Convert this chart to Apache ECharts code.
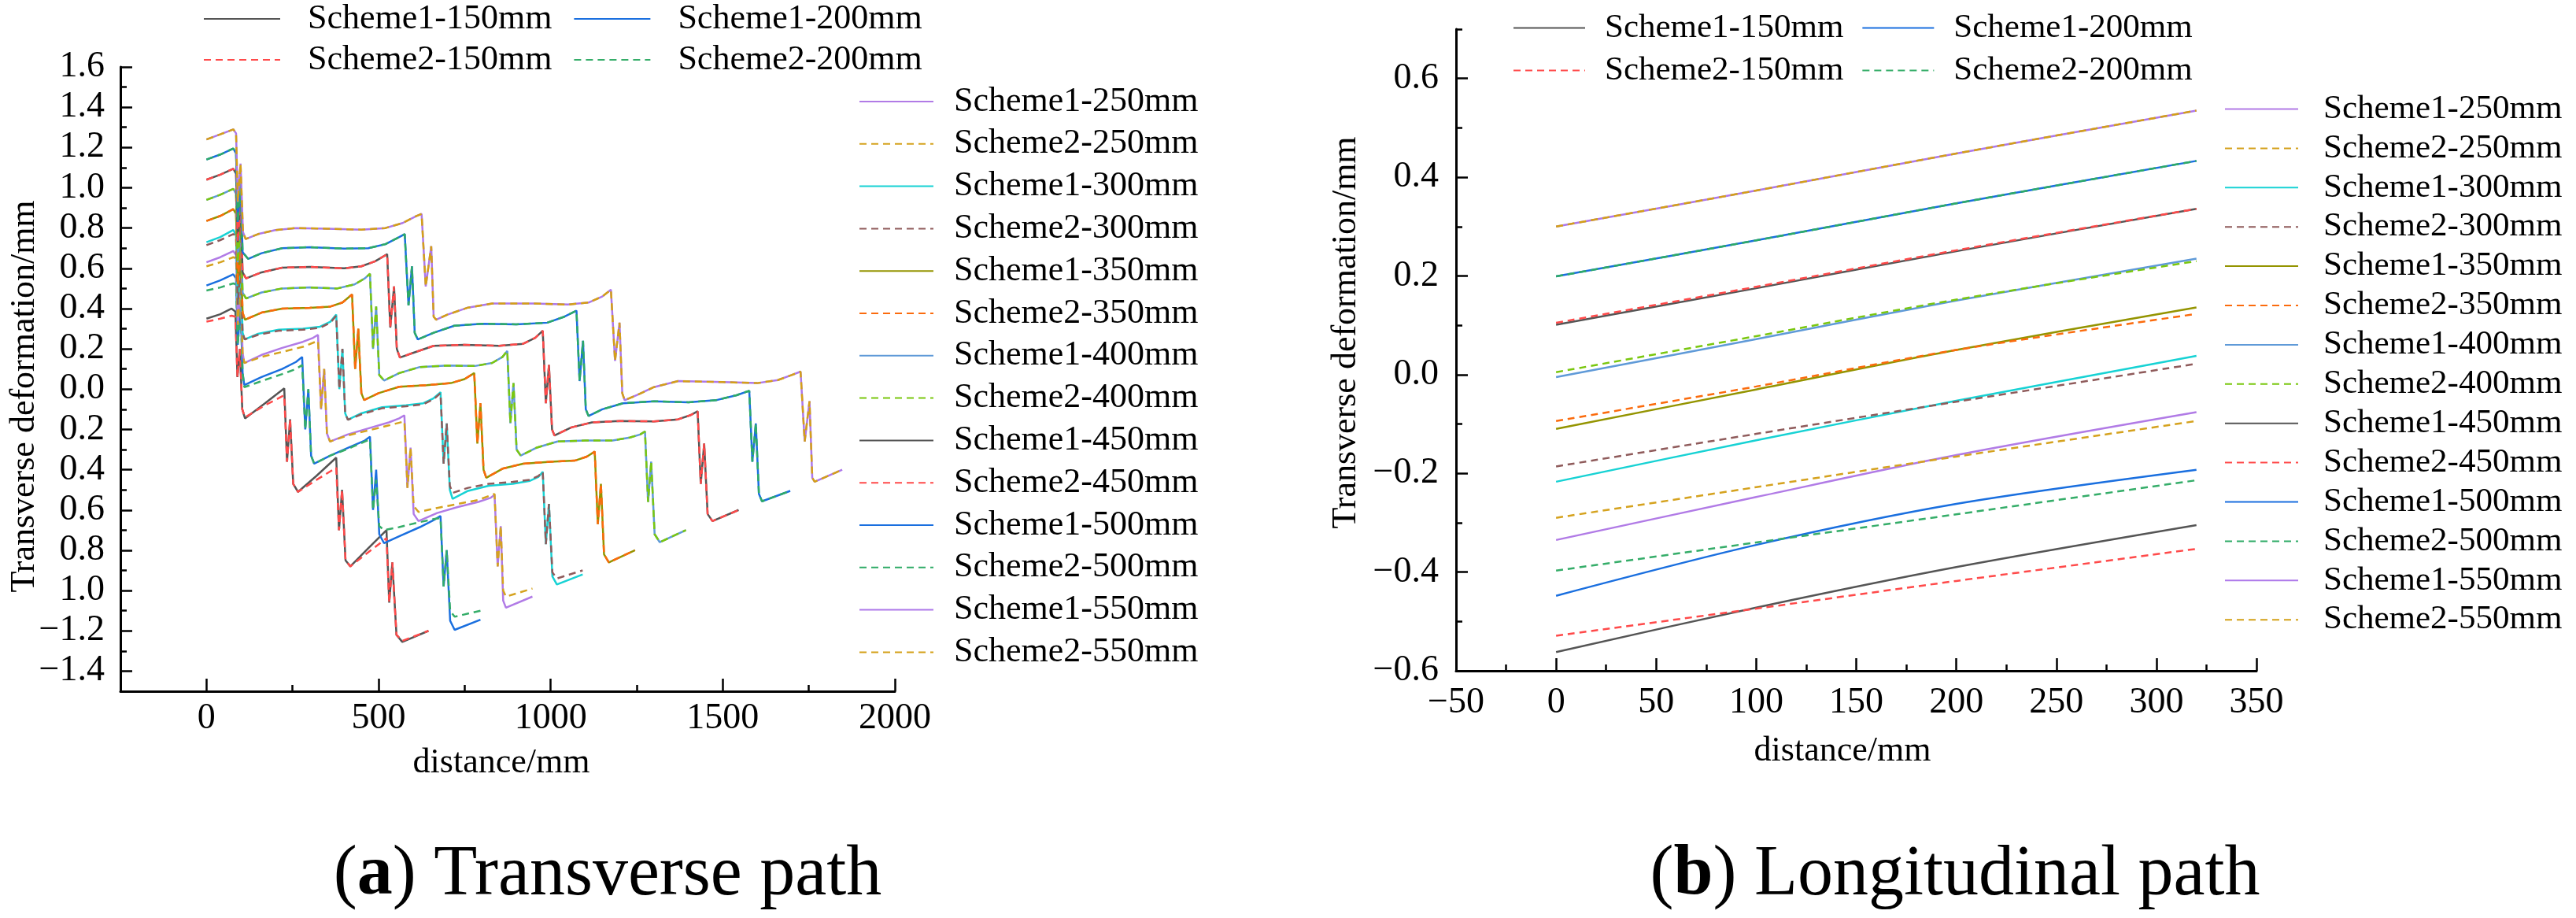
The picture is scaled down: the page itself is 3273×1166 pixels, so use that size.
<!DOCTYPE html>
<html>
<head>
<meta charset="utf-8">
<script src="https://cdn.jsdelivr.net/npm/echarts@6/dist/echarts.min.js"></script>
<style>
html, body { margin: 0; padding: 0; background: #fff; }
#chart { width: 3273px; height: 1166px; }
</style>
</head>
<body>
<div id="chart"></div>
<script>
// =====================================
// Series names / colours
// =====================================

const seriesNames = [
    "Scheme1-150mm", "Scheme2-150mm",
    "Scheme1-200mm", "Scheme2-200mm",
    "Scheme1-250mm", "Scheme2-250mm",
    "Scheme1-300mm", "Scheme2-300mm",
    "Scheme1-350mm", "Scheme2-350mm",
    "Scheme1-400mm", "Scheme2-400mm",
    "Scheme1-450mm", "Scheme2-450mm",
    "Scheme1-500mm", "Scheme2-500mm",
    "Scheme1-550mm", "Scheme2-550mm"
];

const seriesColors = [
    "#555555", "#ff4a4a",
    "#1a6fdf", "#35ad69",
    "#b17be6", "#d5a21e",
    "#17d2d4", "#8f5b5b",
    "#949400", "#fb6b0d",
    "#5f9ad8", "#7ac70f",
    "#555555", "#ff4a4a",
    "#1a6fdf", "#2eab66",
    "#ad78ea", "#d4a017"
];

// =====================================
// (a) Transverse path  [distance, deformation]
// =====================================

const trans150s1 = [
    [0, 0.35], [40, 0.372], [73, 0.40], [84, 0.385], [90, 0.06], [97, 0.2], [104, -0.1], [112, -0.145],
    [170, -0.07], [226, 0.004],
    [234, -0.36], [243, -0.15], [252, -0.47], [266, -0.51],
    [320, -0.43], [377, -0.34],
    [385, -0.7], [394, -0.5], [404, -0.85], [418, -0.88],
    [470, -0.79], [523, -0.70],
    [531, -1.06], [540, -0.86], [552, -1.22], [569, -1.255],
    [645, -1.20]
];
const trans150s2 = [
    [0, 0.335], [40, 0.35], [73, 0.365], [84, 0.36], [90, 0.06], [97, 0.2], [104, -0.1], [112, -0.14],
    [170, -0.08], [226, -0.03],
    [234, -0.36], [243, -0.15], [252, -0.47], [266, -0.51],
    [320, -0.45], [377, -0.39],
    [385, -0.7], [394, -0.5], [404, -0.85], [418, -0.88],
    [470, -0.81], [523, -0.74],
    [531, -1.06], [540, -0.86], [552, -1.22], [569, -1.25],
    [645, -1.20]
];
const trans200s1 = [
    [0, 0.515], [40, 0.54], [78, 0.57], [86, 0.55], [91, 0.22], [99, 0.42], [105, 0.08], [110, 0.02],
    [160, 0.06], [220, 0.10], [260, 0.135], [278, 0.16],
    [287, -0.2], [296, 0.0], [304, -0.33], [313, -0.37],
    [360, -0.33], [420, -0.285], [460, -0.255], [475, -0.236],
    [484, -0.6], [493, -0.4], [502, -0.72], [516, -0.765],
    [560, -0.73], [620, -0.685], [660, -0.65], [680, -0.63],
    [689, -0.98], [698, -0.8], [708, -1.15], [721, -1.195],
    [796, -1.145]
];
const trans200s2 = [
    [0, 0.49], [40, 0.505], [78, 0.525], [86, 0.52], [91, 0.22], [99, 0.42], [105, 0.08], [110, 0.01],
    [160, 0.04], [220, 0.075], [260, 0.10], [278, 0.12],
    [287, -0.2], [296, 0.0], [304, -0.33], [313, -0.37],
    [360, -0.33], [420, -0.29], [460, -0.26], [475, -0.25],
    [484, -0.6], [493, -0.45], [502, -0.68], [516, -0.70],
    [560, -0.685], [620, -0.66], [660, -0.645], [680, -0.64],
    [689, -0.98], [698, -0.8], [708, -1.1], [721, -1.13],
    [796, -1.10]
];
const trans250s1 = [
    [0, 0.63], [40, 0.655], [78, 0.686], [86, 0.665], [91, 0.32], [99, 0.52], [105, 0.18], [110, 0.13],
    [160, 0.17], [220, 0.205], [280, 0.235], [310, 0.255], [324, 0.27],
    [333, -0.1], [342, 0.1], [350, -0.22], [359, -0.26],
    [410, -0.225], [470, -0.195], [530, -0.165], [560, -0.145], [575, -0.13],
    [584, -0.49], [593, -0.29], [602, -0.62], [616, -0.655],
    [670, -0.615], [730, -0.585], [790, -0.56], [825, -0.54], [837, -0.525],
    [846, -0.88], [855, -0.68], [862, -1.05], [870, -1.085],
    [947, -1.03]
];
const trans250s2 = [
    [0, 0.61], [40, 0.63], [78, 0.655], [86, 0.65], [91, 0.32], [99, 0.52], [105, 0.18], [110, 0.13],
    [160, 0.16], [220, 0.185], [280, 0.21], [324, 0.24],
    [333, -0.1], [342, 0.1], [350, -0.22], [359, -0.26],
    [410, -0.23], [470, -0.205], [530, -0.18], [575, -0.16],
    [584, -0.49], [593, -0.29], [602, -0.58], [616, -0.61],
    [670, -0.59], [730, -0.57], [790, -0.55], [837, -0.52],
    [846, -0.88], [855, -0.68], [862, -1.0], [870, -1.03],
    [947, -0.99]
];
const trans300s1 = [
    [0, 0.73], [40, 0.755], [78, 0.79], [86, 0.765], [91, 0.42], [99, 0.62], [105, 0.28], [111, 0.247],
    [150, 0.275], [210, 0.295], [280, 0.30], [330, 0.31], [360, 0.335], [377, 0.37],
    [386, 0.0], [395, 0.2], [403, -0.12], [411, -0.152],
    [450, -0.12], [510, -0.09], [580, -0.08], [630, -0.07], [660, -0.045], [680, -0.015],
    [689, -0.37], [698, -0.17], [707, -0.5], [715, -0.545],
    [760, -0.505], [820, -0.48], [890, -0.47], [940, -0.455], [965, -0.435], [977, -0.41],
    [986, -0.77], [995, -0.57], [1005, -0.93], [1018, -0.97],
    [1093, -0.92]
];
const trans300s2 = [
    [0, 0.715], [40, 0.74], [78, 0.77], [86, 0.76], [91, 0.42], [99, 0.62], [105, 0.28], [111, 0.247],
    [150, 0.27], [210, 0.29], [280, 0.295], [330, 0.305], [360, 0.33], [377, 0.365],
    [386, 0.0], [395, 0.2], [403, -0.12], [411, -0.152],
    [450, -0.125], [510, -0.095], [580, -0.085], [630, -0.075], [660, -0.05], [680, -0.02],
    [689, -0.37], [698, -0.17], [707, -0.48], [715, -0.515],
    [760, -0.49], [820, -0.47], [890, -0.46], [940, -0.45], [965, -0.43], [977, -0.41],
    [986, -0.77], [995, -0.57], [1005, -0.91], [1018, -0.94],
    [1093, -0.90]
];
const trans350 = [
    [0, 0.835], [40, 0.86], [78, 0.894], [86, 0.87], [91, 0.52], [99, 0.72], [105, 0.38], [112, 0.345],
    [160, 0.38], [220, 0.40], [300, 0.404], [360, 0.41], [395, 0.43], [423, 0.47],
    [432, 0.1], [441, 0.3], [450, -0.02], [458, -0.054],
    [500, -0.02], [560, 0.012], [640, 0.02], [710, 0.03], [750, 0.05], [778, 0.08],
    [787, -0.27], [796, -0.07], [805, -0.4], [813, -0.44],
    [860, -0.395], [920, -0.37], [1000, -0.36], [1070, -0.355], [1105, -0.335], [1128, -0.31],
    [1137, -0.67], [1146, -0.47], [1155, -0.82], [1169, -0.86],
    [1245, -0.80]
];
const trans400 = [
    [0, 0.94], [40, 0.965], [78, 0.995], [86, 0.97], [91, 0.63], [99, 0.82], [105, 0.48], [115, 0.45],
    [160, 0.48], [220, 0.50], [300, 0.505], [380, 0.50], [430, 0.52], [460, 0.55], [475, 0.573],
    [484, 0.2], [493, 0.41], [502, 0.07], [516, 0.043],
    [560, 0.08], [620, 0.11], [700, 0.117], [780, 0.115], [830, 0.13], [860, 0.16], [874, 0.19],
    [883, -0.17], [892, 0.03], [901, -0.3], [913, -0.33],
    [960, -0.29], [1020, -0.26], [1100, -0.255], [1180, -0.255], [1230, -0.24], [1260, -0.225], [1274, -0.21],
    [1283, -0.56], [1292, -0.36], [1302, -0.72], [1317, -0.76],
    [1393, -0.70]
];
const trans450 = [
    [0, 1.04], [40, 1.065], [78, 1.094], [86, 1.07], [91, 0.73], [99, 0.92], [105, 0.58], [115, 0.55],
    [160, 0.58], [220, 0.603], [300, 0.607], [400, 0.60], [450, 0.61], [490, 0.635], [525, 0.67],
    [534, 0.306], [545, 0.51], [553, 0.2], [562, 0.157],
    [600, 0.18], [660, 0.215], [750, 0.22], [850, 0.215], [920, 0.225], [955, 0.255], [977, 0.29],
    [986, -0.07], [995, 0.12], [1004, -0.2], [1011, -0.23],
    [1060, -0.19], [1120, -0.165], [1200, -0.158], [1300, -0.16], [1370, -0.15], [1405, -0.13], [1427, -0.11],
    [1436, -0.47], [1446, -0.27], [1456, -0.62], [1470, -0.655],
    [1546, -0.60]
];
const trans500 = [
    [0, 1.14], [40, 1.165], [78, 1.195], [86, 1.17], [91, 0.83], [99, 1.02], [105, 0.68], [121, 0.647],
    [160, 0.675], [220, 0.70], [300, 0.705], [400, 0.698], [470, 0.70], [520, 0.72], [560, 0.755], [576, 0.77],
    [587, 0.416], [597, 0.61], [605, 0.28], [614, 0.247],
    [660, 0.28], [720, 0.315], [800, 0.325], [900, 0.322], [990, 0.33], [1040, 0.36], [1075, 0.39],
    [1084, 0.04], [1094, 0.24], [1102, -0.1], [1110, -0.133],
    [1150, -0.10], [1210, -0.07], [1300, -0.06], [1400, -0.065], [1480, -0.055], [1540, -0.03], [1577, -0.008],
    [1586, -0.36], [1596, -0.17], [1605, -0.52], [1614, -0.557],
    [1696, -0.505]
];
const trans550 = [
    [0, 1.24], [40, 1.265], [78, 1.29], [86, 1.27], [91, 0.93], [99, 1.12], [106, 0.78], [114, 0.745],
    [150, 0.77], [200, 0.79], [260, 0.80], [350, 0.797], [450, 0.792], [520, 0.80], [570, 0.825], [610, 0.86], [625, 0.87],
    [637, 0.51], [653, 0.71], [660, 0.36], [667, 0.345],
    [700, 0.37], [760, 0.405], [830, 0.425], [950, 0.425], [1050, 0.42], [1110, 0.43], [1150, 0.46], [1175, 0.494],
    [1187, 0.14], [1200, 0.33], [1208, -0.02], [1215, -0.055],
    [1250, -0.03], [1300, 0.01], [1370, 0.04], [1500, 0.035], [1600, 0.03], [1660, 0.045], [1700, 0.07], [1726, 0.087],
    [1738, -0.26], [1752, -0.06], [1760, -0.44], [1767, -0.46],
    [1847, -0.40]
];

const transverseData = [
    trans150s1, trans150s2,
    trans200s1, trans200s2,
    trans250s1, trans250s2,
    trans300s1, trans300s2,
    trans350, trans350,
    trans400, trans400,
    trans450, trans450,
    trans500, trans500,
    trans550, trans550
];

// =====================================
// (b) Longitudinal path  [distance, deformation]
// =====================================

const long150s1 = [[0, -0.562], [100, -0.472], [200, -0.39], [320, -0.305]];
const long150s2 = [[0, -0.529], [100, -0.474], [200, -0.418], [320, -0.353]];
const long200s1 = [[0, -0.448], [100, -0.345], [200, -0.262], [320, -0.193]];
const long200s2 = [[0, -0.397], [100, -0.34], [200, -0.283], [320, -0.214]];
const long250s1 = [[0, -0.335], [100, -0.248], [200, -0.163], [320, -0.076]];
const long250s2 = [[0, -0.29], [100, -0.228], [200, -0.166], [320, -0.094]];
const long300s1 = [[0, -0.217], [100, -0.133], [200, -0.053], [320, 0.038]];
const long300s2 = [[0, -0.186], [100, -0.12], [200, -0.055], [320, 0.022]];
const long350s1 = [[0, -0.11], [100, -0.03], [200, 0.05], [320, 0.136]];
const long350s2 = [[0, -0.094], [100, -0.024], [200, 0.05], [320, 0.123]];
const long400s1 = [[0, -0.005], [100, 0.072], [200, 0.15], [320, 0.235]];
const long400s2 = [[0, 0.005], [100, 0.078], [200, 0.152], [320, 0.23]];
const long450s1 = [[0, 0.101], [100, 0.175], [200, 0.25], [320, 0.336]];
const long450s2 = [[0, 0.105], [100, 0.178], [200, 0.252], [320, 0.336]];
const long500 = [[0, 0.199], [100, 0.272], [200, 0.347], [320, 0.433]];
const long550 = [[0, 0.30], [100, 0.373], [200, 0.448], [320, 0.535]];

const longitudinalData = [
    long150s1, long150s2,
    long200s1, long200s2,
    long250s1, long250s2,
    long300s1, long300s2,
    long350s1, long350s2,
    long400s1, long400s2,
    long450s1, long450s2,
    long500, long500,
    long550, long550
];

// =====================================
// Ticks
// =====================================

const transXTicks = [0, 500, 1000, 1500, 2000];
const transYTicks = [-1.4, -1.2, -1.0, -0.8, -0.6, -0.4, -0.2, 0, 0.2, 0.4, 0.6, 0.8, 1.0, 1.2, 1.4, 1.6];
const transYLabels = ["\u22121.4", "\u22121.2", "1.0", "0.8", "0.6", "0.4", "0.2", "0.0",
    "0.2", "0.4", "0.6", "0.8", "1.0", "1.2", "1.4", "1.6"];
const longYTicks = [-0.6, -0.4, -0.2, 0, 0.2, 0.4, 0.6];

const topLegendRow1 = ["Scheme1-150mm", "Scheme1-200mm"];
const topLegendRow2 = ["Scheme2-150mm", "Scheme2-200mm"];
const sideLegend = seriesNames.slice(4);

// =====================================
// Styles
// =====================================

const FONT = "'Times New Roman', 'Liberation Serif', serif";

const labelText = {
    fontFamily: FONT,
    fontSize: 46,
    color: "#000"
};

const nameText = {
    fontFamily: FONT,
    fontSize: 44,
    color: "#000"
};

const axisLineStyle = {
    show: true,
    onZero: false,
    lineStyle: { color: "#000", width: 3 }
};

function minus(text) {
    return String(text).replace("-", "\u2212");
}

function legendItem(left, top, data, itemWidth, gap, textPad, fontSize, vertical) {
    return {
        left: left,
        top: top,
        orient: vertical ? "vertical" : "horizontal",
        padding: 0,
        data: data,
        itemWidth: itemWidth,
        itemHeight: 14,
        itemGap: gap,
        selectedMode: false,
        itemStyle: { opacity: 0 },
        textStyle: {
            fontFamily: FONT,
            fontSize: fontSize,
            lineHeight: fontSize,
            color: "#000",
            padding: [0, 0, 0, textPad]
        }
    };
}

function minorAxis(gridIndex, position, min, max, interval) {
    return {
        gridIndex: gridIndex,
        type: "value",
        position: position,
        min: min,
        max: max,
        interval: interval,
        axisLine: { show: false, onZero: false },
        axisTick: {
            inside: true,
            length: 8,
            lineStyle: { color: "#000", width: 2.5 }
        },
        axisLabel: { show: false },
        splitLine: { show: false }
    };
}

// =====================================
// Series
// =====================================

const series = [];

seriesNames.forEach((name, i) => {
    const dashed = name.indexOf("Scheme2") === 0;
    const lineStyle = {
        color: seriesColors[i],
        width: 2.5,
        type: dashed ? [9, 6] : "solid"
    };
    series.push({
        type: "line",
        name: name,
        xAxisIndex: 0,
        yAxisIndex: 0,
        data: transverseData[i],
        symbol: "none",
        showSymbol: false,
        lineStyle: lineStyle,
        itemStyle: { color: seriesColors[i] },
        animation: false
    });
    series.push({
        type: "line",
        name: name,
        xAxisIndex: 2,
        yAxisIndex: 2,
        data: longitudinalData[i],
        symbol: "none",
        showSymbol: false,
        smooth: 0.3,
        lineStyle: lineStyle,
        itemStyle: { color: seriesColors[i] },
        animation: false
    });
});

// =====================================
// Chart
// =====================================

const chart = echarts.init(document.getElementById("chart"));

chart.setOption({
    backgroundColor: "#fff",
    animation: false,
    grid: [
        { left: 153, top: 85, width: 984, height: 793, outerBoundsMode: "none" },
        { left: 1850, top: 37, width: 1017, height: 815, outerBoundsMode: "none" }
    ],
    legend: [
        legendItem(258, 2, topLegendRow1, 97, 27, 30, 44, false),
        legendItem(258, 54, topLegendRow2, 97, 27, 30, 44, false),
        legendItem(1091, 107, sideLegend, 94, 9.8, 21, 44, true),
        legendItem(1922, 14, topLegendRow1, 91, 23, 20, 43, false),
        legendItem(1922, 68, topLegendRow2, 91, 23, 20, 43, false),
        legendItem(2826, 117, sideLegend, 93, 6.9, 27, 43, true)
    ],
    xAxis: [
        {
            gridIndex: 0,
            type: "value",
            position: "bottom",
            min: -250,
            max: 2000,
            axisLine: axisLineStyle,
            axisTick: {
                inside: true,
                length: 16,
                customValues: transXTicks,
                lineStyle: { color: "#000", width: 2.5 }
            },
            axisLabel: Object.assign({
                customValues: transXTicks,
                margin: 12,
                formatter: v => String(v)
            }, labelText),
            splitLine: { show: false },
            name: "distance/mm",
            nameLocation: "middle",
            nameGap: 69,
            nameMoveOverlap: false,
            nameTextStyle: Object.assign({ padding: [0, 16, 0, 0] }, nameText)
        },
        minorAxis(0, "bottom", -250, 2000, 250),
        {
            gridIndex: 1,
            type: "value",
            position: "bottom",
            min: -50,
            max: 350,
            interval: 50,
            axisLine: axisLineStyle,
            axisTick: {
                inside: true,
                length: 16,
                lineStyle: { color: "#000", width: 2.5 }
            },
            axisLabel: Object.assign({
                margin: 18,
                formatter: v => minus(v)
            }, labelText),
            splitLine: { show: false },
            name: "distance/mm",
            nameLocation: "middle",
            nameGap: 80,
            nameMoveOverlap: false,
            nameTextStyle: Object.assign({ padding: [0, 35, 0, 0] }, nameText)
        },
        minorAxis(1, "bottom", -50, 350, 25)
    ],
    yAxis: [
        {
            gridIndex: 0,
            type: "value",
            position: "left",
            min: -1.5,
            max: 1.6,
            axisLine: axisLineStyle,
            axisTick: {
                inside: true,
                length: 15,
                customValues: transYTicks,
                lineStyle: { color: "#000", width: 2.5 }
            },
            axisLabel: Object.assign({
                customValues: transYTicks,
                margin: 20,
                formatter: function (v) {
                    const k = transYTicks.findIndex(t => Math.abs(t - v) < 1e-6);
                    return k >= 0 ? transYLabels[k] : "";
                }
            }, labelText),
            splitLine: { show: false },
            name: "Transverse deformation/mm",
            nameLocation: "middle",
            nameGap: 100,
            nameMoveOverlap: false,
            nameTextStyle: Object.assign({ padding: [0, 44, 0, 0] }, nameText)
        },
        minorAxis(0, "left", -1.5, 1.6, 0.1),
        {
            gridIndex: 1,
            type: "value",
            position: "left",
            min: -0.6,
            max: 0.7,
            axisLine: axisLineStyle,
            axisTick: {
                inside: true,
                length: 15,
                customValues: longYTicks,
                lineStyle: { color: "#000", width: 2.5 }
            },
            axisLabel: Object.assign({
                customValues: longYTicks,
                margin: 22,
                formatter: v => minus(v.toFixed(1))
            }, labelText),
            splitLine: { show: false },
            name: "Transverse deformation/mm",
            nameLocation: "middle",
            nameGap: 118,
            nameMoveOverlap: false,
            nameTextStyle: Object.assign({ padding: [0, 0, 0, 44] }, nameText)
        },
        minorAxis(1, "left", -0.6, 0.7, 0.1)
    ],
    graphic: [
        {
            type: "text",
            x: 772,
            y: 1112,
            style: {
                text: "({b|a}) Transverse path",
                fontFamily: FONT,
                fontSize: 90,
                fill: "#000",
                align: "center",
                verticalAlign: "middle",
                rich: { b: { fontFamily: FONT, fontSize: 90, fontWeight: "bold", fill: "#000" } }
            }
        },
        {
            type: "text",
            x: 2484,
            y: 1112,
            style: {
                text: "({b|b}) Longitudinal path",
                fontFamily: FONT,
                fontSize: 90,
                fill: "#000",
                align: "center",
                verticalAlign: "middle",
                rich: { b: { fontFamily: FONT, fontSize: 90, fontWeight: "bold", fill: "#000" } }
            }
        }
    ],
    series: series
});

window.addEventListener("resize", () => chart.resize());
</script>
</body>
</html>
